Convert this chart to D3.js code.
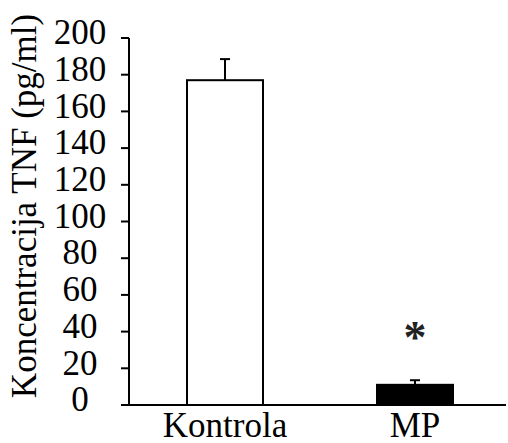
<!DOCTYPE html>
<html>
<head>
<meta charset="utf-8">
<script src="https://cdn.jsdelivr.net/npm/d3@7"></script>
<style>
  html, body { margin: 0; padding: 0; background: #fff; }
  svg { display: block; }
  svg text { font-family: "Liberation Serif", "Times New Roman", Tinos, serif; }
</style>
</head>
<body>
<svg id="chart" width="508" height="443"></svg>
<script>
const categories = ["Kontrola", "MP"];
const values = [177, 11];
const errors = [11.5, 2.5];
const significance = ["", "*"];
const yTicks = [0, 20, 40, 60, 80, 100, 120, 140, 160, 180, 200];
const yTitle = "Koncentracija TNF (pg/ml)";
const fills = ["#ffffff", "#000000"];

const m = { left: 129, top: 38, bottom: 405, right: 506 };
const fs = "35px";

const svg = d3.select("#chart");

const y = d3.scaleLinear().domain([0, 200]).range([m.bottom, m.top]);
const x = d3.scaleBand().domain(categories).range([130, 510]).paddingInner(0.6).paddingOuter(0.3);

// Y axis (drawn from the scale)
const gy = svg.append("g");
gy.append("line").attr("x1", m.left).attr("x2", m.left).attr("y1", y(200)).attr("y2", y(0))
  .attr("stroke", "#000").attr("stroke-width", 2);
const tick = gy.selectAll("g.tick").data(yTicks).join("g").attr("class", "tick")
  .attr("transform", d => `translate(0,${y(d)})`);
tick.append("line").attr("x1", m.left - 8).attr("x2", m.left).attr("stroke", "#000").attr("stroke-width", 2);
tick.append("text")
  .attr("x", m.left - 49)
  .attr("y", -5)
  .attr("dy", "0.32em")
  .attr("text-anchor", "middle")
  .style("font-size", fs)
  .attr("fill", "#000")
  .text(d => d);

// Bars
svg.append("g").selectAll("rect")
  .data(categories)
  .join("rect")
  .attr("x", d => x(d))
  .attr("width", x.bandwidth())
  .attr("y", (d, i) => y(values[i]))
  .attr("height", (d, i) => y(0) - y(values[i]))
  .attr("fill", (d, i) => fills[i])
  .attr("stroke", "#000")
  .attr("stroke-width", 2);

// Error bars
const eg = svg.append("g").attr("stroke", "#000").attr("stroke-width", 2);
categories.forEach((c, i) => {
  const cx = x(c) + x.bandwidth() / 2;
  eg.append("line").attr("x1", cx).attr("x2", cx).attr("y1", y(values[i])).attr("y2", y(values[i] + errors[i]));
  eg.append("line").attr("x1", cx - 5).attr("x2", cx + 5).attr("y1", y(values[i] + errors[i])).attr("y2", y(values[i] + errors[i]));
});

// X axis line
svg.append("line").attr("x1", m.left - 1).attr("x2", m.right).attr("y1", y(0)).attr("y2", y(0))
  .attr("stroke", "#000").attr("stroke-width", 2);

// X labels
svg.append("g").selectAll("text")
  .data(categories)
  .join("text")
  .attr("x", d => x(d) + x.bandwidth() / 2)
  .attr("y", 437)
  .attr("text-anchor", "middle")
  .style("font-size", fs)
  .attr("fill", "#000")
  .text(d => d);

// Significance markers
svg.append("g").selectAll("text")
  .data(categories)
  .join("text")
  .attr("x", d => x(d) + x.bandwidth() / 2)
  .attr("y", (d, i) => y(values[i] + errors[i]) - 27)
  .attr("text-anchor", "middle")
  .style("font-size", "46px")
  .style("font-weight", "bold")
  .attr("fill", "#222")
  .text((d, i) => significance[i]);

// Y title
svg.append("text")
  .attr("transform", `translate(36,206) rotate(-90)`)
  .attr("text-anchor", "middle")
  .style("font-size", fs)
  .attr("fill", "#000")
  .text(yTitle);
</script>
</body>
</html>
